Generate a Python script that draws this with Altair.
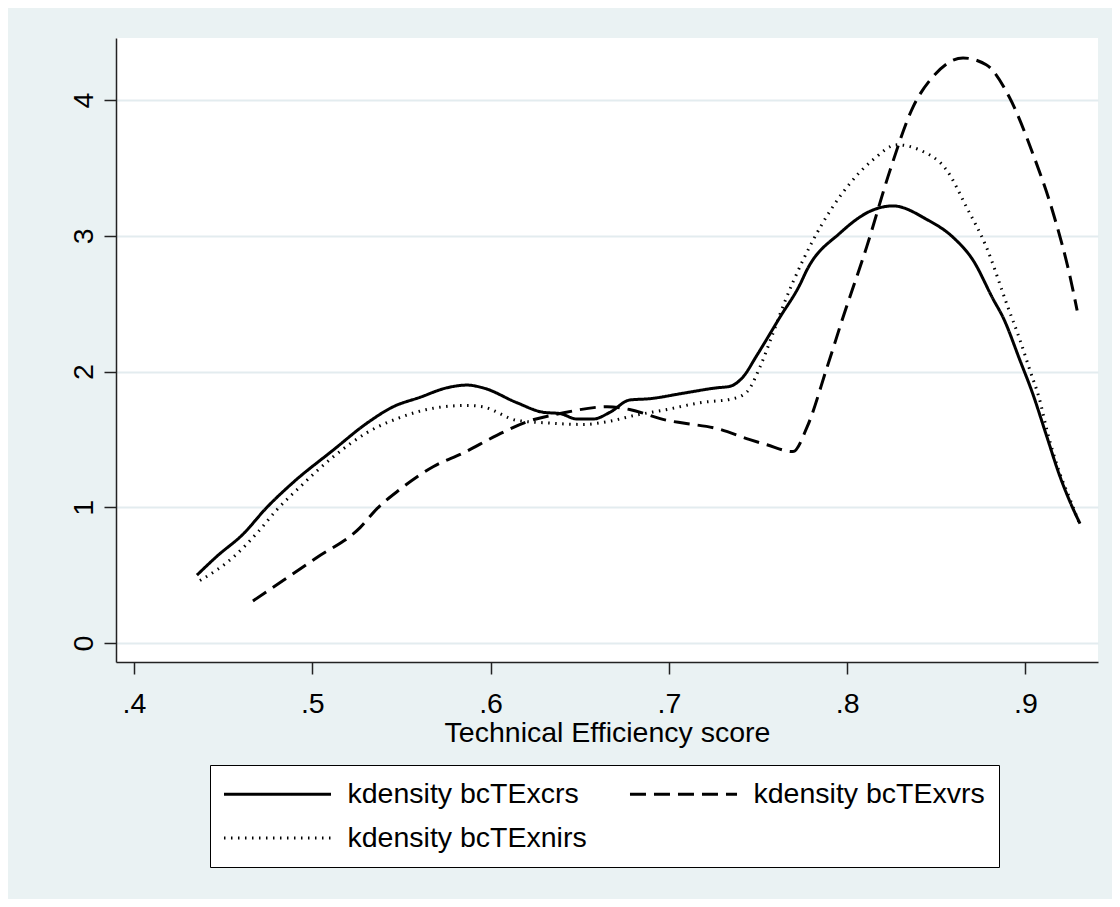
import altair as alt
import pandas as pd

# --- data ---
series_names = ["kdensity bcTExcrs", "kdensity bcTExvrs", "kdensity bcTExnirs"]

crs_x = [0.4353, 0.4466, 0.461, 0.4746, 0.489, 0.5116, 0.5307, 0.5453, 0.5604, 0.5755,
         0.5868, 0.5957, 0.6148, 0.6294, 0.639, 0.6485, 0.6575, 0.667, 0.678, 0.6894,
         0.708, 0.727, 0.734, 0.7416, 0.7494, 0.7623, 0.7735, 0.7775, 0.796, 0.8145,
         0.8257, 0.8447, 0.8593, 0.8706, 0.882, 0.8874, 0.897, 0.904, 0.912, 0.919,
         0.925, 0.9306]
crs_y = [0.50, 0.64, 0.80, 1.00, 1.18, 1.42, 1.62, 1.74, 1.81, 1.88,
         1.90, 1.88, 1.77, 1.70, 1.69, 1.65, 1.65, 1.70, 1.79, 1.80,
         1.84, 1.88, 1.89, 1.96, 2.12, 2.40, 2.64, 2.75, 3.02, 3.19,
         3.22, 3.12, 2.99, 2.82, 2.53, 2.40, 2.08, 1.84, 1.52, 1.24,
         1.04, 0.88]

vrs_x = [0.4667, 0.4836, 0.5026, 0.5268, 0.5363, 0.549, 0.568, 0.5848, 0.6035, 0.6204,
         0.639, 0.6653, 0.678, 0.699, 0.708, 0.727, 0.745, 0.755, 0.7696, 0.7775,
         0.7887, 0.7977, 0.811, 0.824, 0.837, 0.848, 0.865, 0.878, 0.891, 0.904,
         0.9155, 0.925, 0.929]
vrs_y = [0.31, 0.46, 0.63, 0.85, 0.99, 1.13, 1.30, 1.40, 1.53, 1.63,
         1.69, 1.74, 1.72, 1.64, 1.62, 1.58, 1.50, 1.46, 1.41, 1.59,
         2.03, 2.40, 2.92, 3.48, 3.95, 4.17, 4.31, 4.26, 4.02, 3.61,
         3.17, 2.70, 2.45]

nirs_x = [0.437, 0.4555, 0.469, 0.480, 0.4931, 0.5116, 0.5307, 0.549, 0.568, 0.5868,
          0.5957, 0.6148, 0.6333, 0.652, 0.6653, 0.682, 0.699, 0.7174, 0.736, 0.7438,
          0.751, 0.7575, 0.764, 0.770, 0.781, 0.800, 0.8145, 0.828, 0.841, 0.856,
          0.867, 0.878, 0.890, 0.897, 0.9025, 0.908, 0.912, 0.919, 0.925, 0.930]
nirs_y = [0.46, 0.63, 0.81, 0.98, 1.15, 1.37, 1.55, 1.66, 1.73, 1.75,
          1.74, 1.64, 1.62, 1.61, 1.63, 1.68, 1.72, 1.77, 1.80, 1.85,
          2.03, 2.25, 2.48, 2.67, 2.97, 3.36, 3.56, 3.67, 3.63, 3.48,
          3.21, 2.92, 2.48, 2.23, 2.01, 1.79, 1.57, 1.26, 1.06, 0.89]

x_ticks = [0.4, 0.5, 0.6, 0.7, 0.8, 0.9]
y_ticks = [0, 1, 2, 3, 4]

rows = []
for name, xs, ys in [(series_names[0], crs_x, crs_y),
                     (series_names[1], vrs_x, vrs_y),
                     (series_names[2], nirs_x, nirs_y)]:
    for i, (a, b) in enumerate(zip(xs, ys)):
        rows.append({"series": name, "x": a, "y": b, "order": i})
df = pd.DataFrame(rows)

FONT = "Liberation Sans"
FS = 28.5

legend = alt.Legend(
    title=None, orient="none", legendX=94, legendY=727,
    columns=2, direction="horizontal",
    symbolType="M-4,0H4", symbolSize=716, symbolOffset=38.5,
    symbolStrokeWidth=2.5, symbolStrokeColor="black",
    labelOffset=55, columnPadding=36, rowPadding=14, padding=14,
    fillColor="white", strokeColor="black",
    labelFont=FONT, labelFontSize=FS, labelColor="black", labelLimit=0,
)

chart = alt.Chart(df).mark_line(interpolate="monotone", color="black").encode(
    x=alt.X("x:Q",
            scale=alt.Scale(domain=[0.3899, 0.9407], nice=False, zero=False),
            axis=alt.Axis(values=x_ticks, title="Technical Efficiency score", grid=False,
                          labelExpr="replace(format(datum.value, '.1f'), '0.', '.')",
                          labelFlush=False, labelPadding=15, titlePadding=1)),
    y=alt.Y("y:Q",
            scale=alt.Scale(domain=[-0.14, 4.457], nice=False, zero=False),
            axis=alt.Axis(values=y_ticks, title=None, grid=True,
                          labelAngle=270, labelAlign="center", labelBaseline="alphabetic",
                          labelPadding=12, labelFlush=False)),
    strokeDash=alt.StrokeDash("series:N",
                              scale=alt.Scale(domain=series_names,
                                              range=[[1, 0], [16, 8], [1.5, 5.5]]),
                              legend=legend),
    strokeWidth=alt.StrokeWidth("series:N",
                                scale=alt.Scale(domain=series_names, range=[3, 3, 1.8]),
                                legend=None),
    order="order:Q",
).properties(
    width=982, height=624,
    autosize=alt.AutoSizeParams(type="none"),
    padding={"left": 108, "top": 30, "right": 14, "bottom": 237},
    background="#EAF2F3",
).configure_view(
    fill="white", strokeWidth=0
).configure_axis(
    labelFont=FONT, labelFontSize=FS, labelColor="black",
    titleFont=FONT, titleFontSize=FS, titleColor="black", titleFontWeight="normal",
    tickSize=12, tickWidth=1.5, tickColor="#222222",
    domainColor="#222222", domainWidth=1.5,
    gridColor="#E3ECEF", gridWidth=2,
)

chart.save("out.html", embed_options={"renderer": "svg", "actions": False})
